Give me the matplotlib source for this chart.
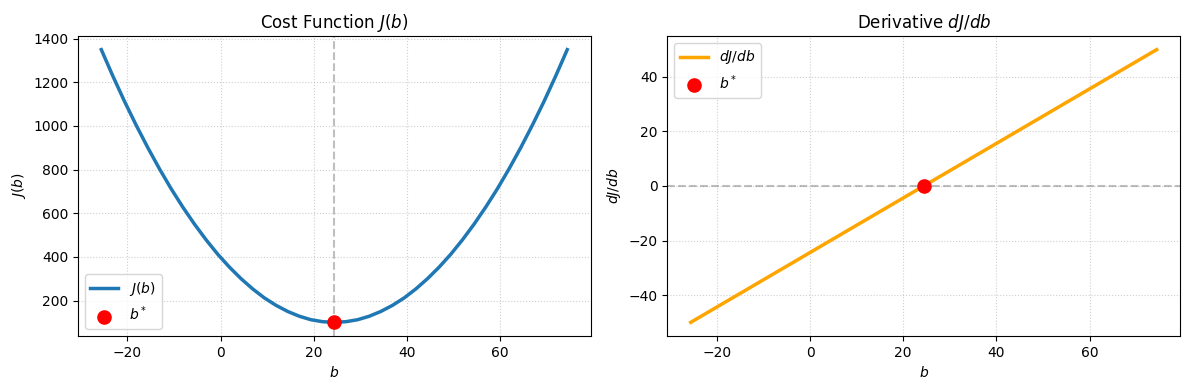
import matplotlib
matplotlib.use("Agg")
import matplotlib.pyplot as plt

# ===============================================
# Values
# ===============================================

b_values = [-25.6, -23.1, -20.6, -18.1, -15.6, -13.1, -10.6, -8.1, -5.6, -3.1,
            -0.6, 1.9, 4.4, 6.9, 9.4, 11.9, 14.4, 16.9, 19.4, 21.9,
            24.4, 26.9, 29.4, 31.9, 34.4, 36.9, 39.4, 41.9, 44.4, 46.9,
            49.4, 51.9, 54.4, 56.9, 59.4, 61.9, 64.4, 66.9, 69.4, 71.9, 74.4]

cost_values = [1350, 1228, 1112, 1003, 900, 803, 712, 628, 550, 478,
               412, 353, 300, 253, 212, 178, 150, 128, 112, 103,
               100, 103, 112, 128, 150, 178, 212, 253, 300, 353,
               412, 478, 550, 628, 712, 803, 900, 1003, 1112, 1228, 1350]

deriv_values = [-50, -47.5, -45, -42.5, -40, -37.5, -35, -32.5, -30, -27.5,
                -25, -22.5, -20, -17.5, -15, -12.5, -10, -7.5, -5, -2.5,
                0, 2.5, 5, 7.5, 10, 12.5, 15, 17.5, 20, 22.5,
                25, 27.5, 30, 32.5, 35, 37.5, 40, 42.5, 45, 47.5, 50]

b_star = 24.4
cost_star = 100
deriv_star = 0

fig, (ax1, ax2) = plt.subplots(1, 2, figsize=(11.89, 3.9), dpi=100)
fig.subplots_adjust(left=0.0656, right=0.9924, bottom=0.1385, top=0.9077, wspace=0.15)

# ===============================================
# Cost function
# ===============================================

ax1.plot(b_values, cost_values, color="tab:blue", linewidth=2.5, label="$J(b)$")
ax1.axvline(b_star, color="gray", linestyle="--", alpha=0.5)
ax1.scatter([b_star], [cost_star], color="red", s=90, zorder=5, label="$b^*$")
ax1.set_title("Cost Function $J(b)$")
ax1.set_xlabel("$b$")
ax1.set_ylabel("$J(b)$")
ax1.grid(True, linestyle=":", alpha=0.6)
ax1.legend(loc="lower left")

# ===============================================
# Derivative
# ===============================================

ax2.plot(b_values, deriv_values, color="orange", linewidth=2.5, label="$dJ/db$")
ax2.axhline(0, color="gray", linestyle="--", alpha=0.5)
ax2.scatter([b_star], [deriv_star], color="red", s=90, zorder=5, label="$b^*$")
ax2.set_title("Derivative $dJ/db$")
ax2.set_xlabel("$b$")
ax2.set_ylabel("$dJ/db$")
ax2.grid(True, linestyle=":", alpha=0.6)
ax2.legend(loc="upper left")

plt.savefig("out.png")
plt.close()
